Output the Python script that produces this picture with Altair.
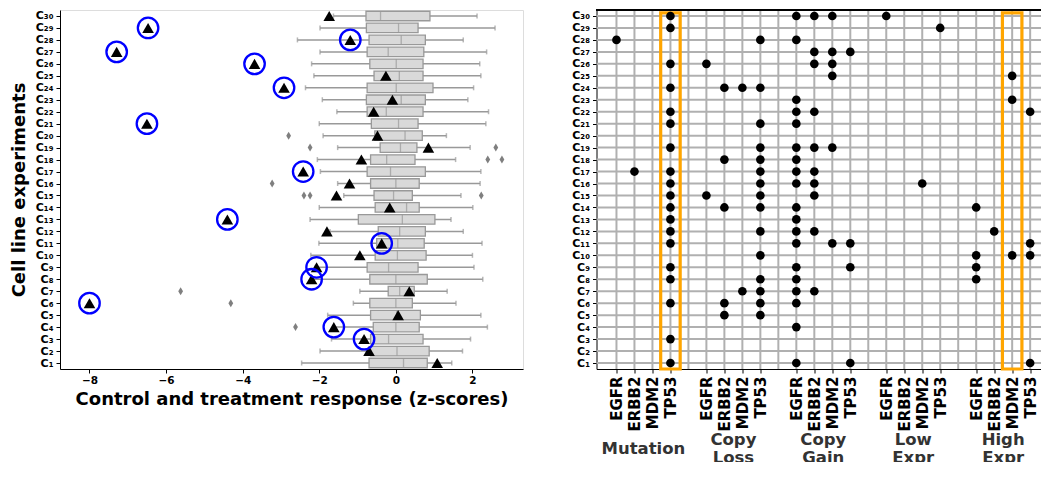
import json
import altair as alt
import pandas as pd

# ---------------- data (cell lines C1..C30) ----------------
rows = list(range(1, 31))
whisker_low = [-2.46, -1.98, -1.68, -1.62, -1.78, -1.11, -0.94, -2.20, -2.10, -2.22,
               -2.01, -1.72, -2.24, -2.00, -1.36, -1.52, -1.97, -2.05, -1.52, -1.90,
               -2.00, -1.54, -1.92, -2.36, -2.14, -2.20, -1.98, -2.57, -1.98, -1.63]
q1 = [-0.70, -0.66, -0.66, -0.59, -0.66, -0.68, -0.20, -0.68, -0.75, -0.54,
      -0.50, -0.46, -0.98, -0.54, -0.57, -0.66, -0.75, -0.66, -0.41, -0.55,
      -0.64, -0.75, -0.77, -0.75, -0.57, -0.68, -0.75, -0.70, -0.77, -0.78]
median = [0.20, 0.03, -0.19, 0.00, 0.02, 0.00, 0.10, 0.00, -0.19, 0.04,
          0.05, 0.10, 0.17, 0.28, -0.06, 0.00, -0.14, -0.24, 0.12, 0.24,
          0.07, -0.25, 0.14, 0.01, 0.09, 0.01, -0.20, 0.14, 0.07, -0.40]
q3 = [0.82, 0.87, 0.71, 0.61, 0.64, 0.43, 0.48, 0.82, 0.58, 0.79,
      0.74, 0.77, 1.02, 0.61, 0.43, 0.61, 0.77, 0.50, 0.55, 0.69,
      0.58, 0.71, 0.77, 0.97, 0.71, 0.71, 0.73, 0.77, 0.58, 0.89]
whisker_high = [1.46, 1.74, 1.95, 2.39, 2.22, 1.57, 1.34, 2.27, 2.04, 2.00,
                2.25, 1.76, 1.44, 2.01, 1.70, 2.20, 2.22, 1.56, 1.94, 1.32,
                2.35, 2.42, 1.88, 2.03, 2.22, 2.19, 2.37, 1.76, 2.59, 2.12]
treatment = [1.08, -0.70, -0.83, -1.62, 0.06, -8.00, 0.35, -2.20, -2.07, -0.94,
             -0.37, -1.80, -4.40, -0.16, -1.55, -1.21, -2.42, -0.90, 0.85, -0.48,
             -6.50, -0.58, -0.09, -2.92, -0.26, -3.69, -7.29, -1.19, -6.47, -1.74]
circled_rows = [3, 4, 6, 8, 9, 11, 13, 17, 21, 24, 26, 27, 28, 29]
outlier_rows = [20, 19, 19, 18, 18, 16, 15, 15, 15, 7, 6, 4]
outlier_values = [-2.80, -2.24, 2.61, 2.40, 2.77, -3.23, -2.40, -2.24, 2.23, -5.62, -4.31, -2.62]

# ---------------- alteration matrix ----------------
genes = ["EGFR", "ERBB2", "MDM2", "TP53"]
groups = ["Mutation", "Copy\nLoss", "Copy\nGain", "Low\nExpr", "High\nExpr"]
mutation = {"EGFR": [28], "ERBB2": [17], "MDM2": [],
            "TP53": [30, 29, 26, 24, 22, 21, 19, 17, 16, 15, 14, 13, 12, 11, 9, 8, 6, 3, 1]}
copy_loss = {"EGFR": [26, 15], "ERBB2": [24, 18, 14, 6, 5], "MDM2": [24, 7],
             "TP53": [28, 24, 21, 19, 18, 17, 16, 15, 14, 12, 10, 8, 7, 6, 5]}
copy_gain = {"EGFR": [30, 28, 23, 22, 21, 19, 18, 17, 16, 14, 13, 12, 11, 9, 8, 7, 6, 4, 1],
             "ERBB2": [30, 27, 26, 22, 19, 17, 16, 15, 12, 7],
             "MDM2": [30, 27, 26, 25, 19, 11], "TP53": [27, 11, 9, 1]}
low_expr = {"EGFR": [30], "ERBB2": [], "MDM2": [16], "TP53": [29]}
high_expr = {"EGFR": [14, 10, 9, 8], "ERBB2": [12], "MDM2": [25, 23, 10], "TP53": [22, 11, 10, 1]}
group_data = [mutation, copy_loss, copy_gain, low_expr, high_expr]
highlighted = [("Mutation", "TP53"), ("High\nExpr", "MDM2")]

# ---------------- tables ----------------
SUB = str.maketrans("0123456789", "₀₁₂₃₄₅₆₇₈₉")
row_labels = ["C" + str(r).translate(SUB) for r in rows]
row_label_expr = json.dumps(row_labels, ensure_ascii=False) + "[datum.value - 1]"

box_df = pd.DataFrame({"row": rows, "wl": whisker_low, "q1": q1, "med": median,
                       "q3": q3, "wh": whisker_high, "treat": treatment})
circ_df = box_df[box_df["row"].isin(circled_rows)]
out_df = pd.DataFrame({"row": outlier_rows, "value": outlier_values})

slot = len(genes) + 1
dots = []
for gi, gd in enumerate(group_data):
    for ki, g in enumerate(genes):
        for r in gd[g]:
            dots.append({"col": gi * slot + ki, "row": r})
dots_df = pd.DataFrame(dots)
n_cols = len(groups) * slot - 1
grid_cols_df = pd.DataFrame({"col": list(range(n_cols))})
grid_rows_df = pd.DataFrame({"row": rows})
gene_cols = [gi * slot + ki for gi in range(len(groups)) for ki in range(len(genes))]
col_label_expr = json.dumps(genes + [""]) + "[datum.value % " + str(slot) + "]"
group_df = pd.DataFrame({"name": groups,
                         "center": [gi * slot + (len(genes) - 1) / 2 for gi in range(len(groups))],
                         "lines": [g.count("\n") + 1 for g in groups]})
hl_df = pd.DataFrame({"col": [groups.index(g) * slot + genes.index(k) for g, k in highlighted]})

# ---------------- styles ----------------
FONT = "DejaVu Sans"
W_L, W_R, H = 463, 452, 359
BOX_GRAY = "#999999"
ROW_FONT = 11

yscale = alt.Scale(domain=[0.5, 30.5], nice=False, zero=False, padding=0)
yaxis = alt.Axis(values=rows, tickCount=len(rows), labelExpr=row_label_expr, grid=False,
                 title=None, labelFontSize=ROW_FONT, labelFontWeight="bold", labelColor="black",
                 labelOverlap=False, labelFlush=False,
                 tickColor="black", tickSize=4, labelPadding=3, domainColor="black")
yaxis_left = alt.Axis(values=rows, tickCount=len(rows), labelExpr=row_label_expr, grid=False,
                      title="Cell line experiments", titleFontSize=18, titleFontWeight="bold",
                      titleColor="black", titlePadding=7,
                      labelFontSize=ROW_FONT, labelFontWeight="bold", labelColor="black",
                      labelOverlap=False, labelFlush=False,
                      tickColor="black", tickSize=4, labelPadding=3, domainColor="black")

xscale_l = alt.Scale(domain=[-8.77, 3.32], nice=False, zero=False, padding=0)
xaxis_l = alt.Axis(values=[-8, -6, -4, -2, 0, 2], grid=False,
                   title="Control and treatment response (z-scores)", titleFontSize=18,
                   titleFontWeight="bold", titleColor="black", titlePadding=5,
                   labelFontSize=10.5, labelFontWeight="bold", labelColor="black",
                   tickColor="black", tickSize=4, labelPadding=2, domainColor="black")

base_l = alt.Chart(box_df)
whisk = base_l.mark_rule(color=BOX_GRAY, strokeWidth=1.5).encode(
    x=alt.X("wl:Q", scale=xscale_l, axis=xaxis_l), x2="wh:Q",
    y=alt.Y("row:Q", scale=yscale, axis=yaxis_left))
cap_lo = base_l.mark_tick(orient="vertical", size=5, thickness=1.5, color=BOX_GRAY).encode(
    x="wl:Q", y="row:Q")
cap_hi = base_l.mark_tick(orient="vertical", size=5, thickness=1.5, color=BOX_GRAY).encode(
    x="wh:Q", y="row:Q")
boxes = base_l.mark_bar(orient="horizontal", size=9.5, fill="#d9d9d9", stroke=BOX_GRAY,
                        strokeWidth=1.3).encode(x="q1:Q", x2="q3:Q", y="row:Q")
meds = base_l.mark_tick(orient="vertical", size=9.5, thickness=1.3, color=BOX_GRAY).encode(
    x="med:Q", y="row:Q")
outs = alt.Chart(out_df).mark_point(shape="M0,-1L0.6,0L0,1L-0.6,0Z", size=64, filled=True,
                                    color="#7f7f7f", opacity=1).encode(x="value:Q", y="row:Q")
tris = base_l.mark_point(shape="triangle-up", size=135, filled=True, color="black",
                         opacity=1).encode(x="treat:Q", y="row:Q")
circs = alt.Chart(circ_df).mark_point(shape="circle", size=420, filled=False, color="#0000ff",
                                      strokeWidth=2.3, opacity=1).encode(x="treat:Q", y="row:Q")

left = alt.layer(whisk, cap_lo, cap_hi, boxes, meds, outs, tris, circs).properties(
    width=W_L, height=H)

# ---------------- right panel ----------------
xscale_r = alt.Scale(domain=[-1.11, 24.02], nice=False, zero=False, padding=0)
xaxis_r = alt.Axis(values=gene_cols, tickCount=len(gene_cols) + 5, labelExpr=col_label_expr,
                   grid=False, title=None,
                   labelAngle=-90, labelFontSize=15, labelFontWeight="bold", labelColor="black",
                   labelOverlap=False, labelFlush=False,
                   tickColor="black", tickSize=4, labelPadding=3, domainColor="black")

vgrid = alt.Chart(grid_cols_df).mark_rule(color="#b0b0b0", strokeWidth=2).encode(
    x=alt.X("col:Q", scale=xscale_r, axis=xaxis_r))
hgrid = alt.Chart(grid_rows_df).mark_rule(color="#b0b0b0", strokeWidth=2).encode(
    y=alt.Y("row:Q", scale=yscale, axis=yaxis))
hl = alt.Chart(hl_df).mark_bar(size=19.5, fill="transparent", stroke="orange",
                               strokeWidth=3.2).encode(
    x="col:Q", y=alt.value(H), y2=alt.value(2.8))
pts = alt.Chart(dots_df).mark_circle(size=75, color="black", opacity=1).encode(
    x="col:Q", y="row:Q")
gtext_style = dict(fontSize=16.5, fontWeight="bold", color="#333333", lineBreak="\n",
                   lineHeight=18, baseline="middle", align="center", font=FONT)
gtext1 = alt.Chart(group_df).transform_filter("datum.lines == 1").mark_text(
    **gtext_style).encode(x="center:Q", y=alt.value(H + 80), text="name:N")
gtext2 = alt.Chart(group_df).transform_filter("datum.lines == 2").mark_text(
    **gtext_style).encode(x="center:Q", y=alt.value(H + 71), text="name:N")
topline = alt.Chart(grid_rows_df).mark_rule(color="black", strokeWidth=1).encode(
    x=alt.value(0), x2=alt.value(W_R), y=alt.value(0))

right = alt.layer(vgrid, hgrid, hl, pts, gtext1, gtext2, topline).properties(
    width=W_R, height=H, view=alt.ViewBackground(stroke="transparent"))

chart = alt.hconcat(left, right, spacing=46.5).properties(
    padding={"left": 1, "top": 0, "right": -9, "bottom": -5}
).configure_view(stroke="black", strokeWidth=1).configure_axis(
    labelOverlap=False).configure(font=FONT)

chart.save("out.html", embed_options={"renderer": "svg", "actions": False})
